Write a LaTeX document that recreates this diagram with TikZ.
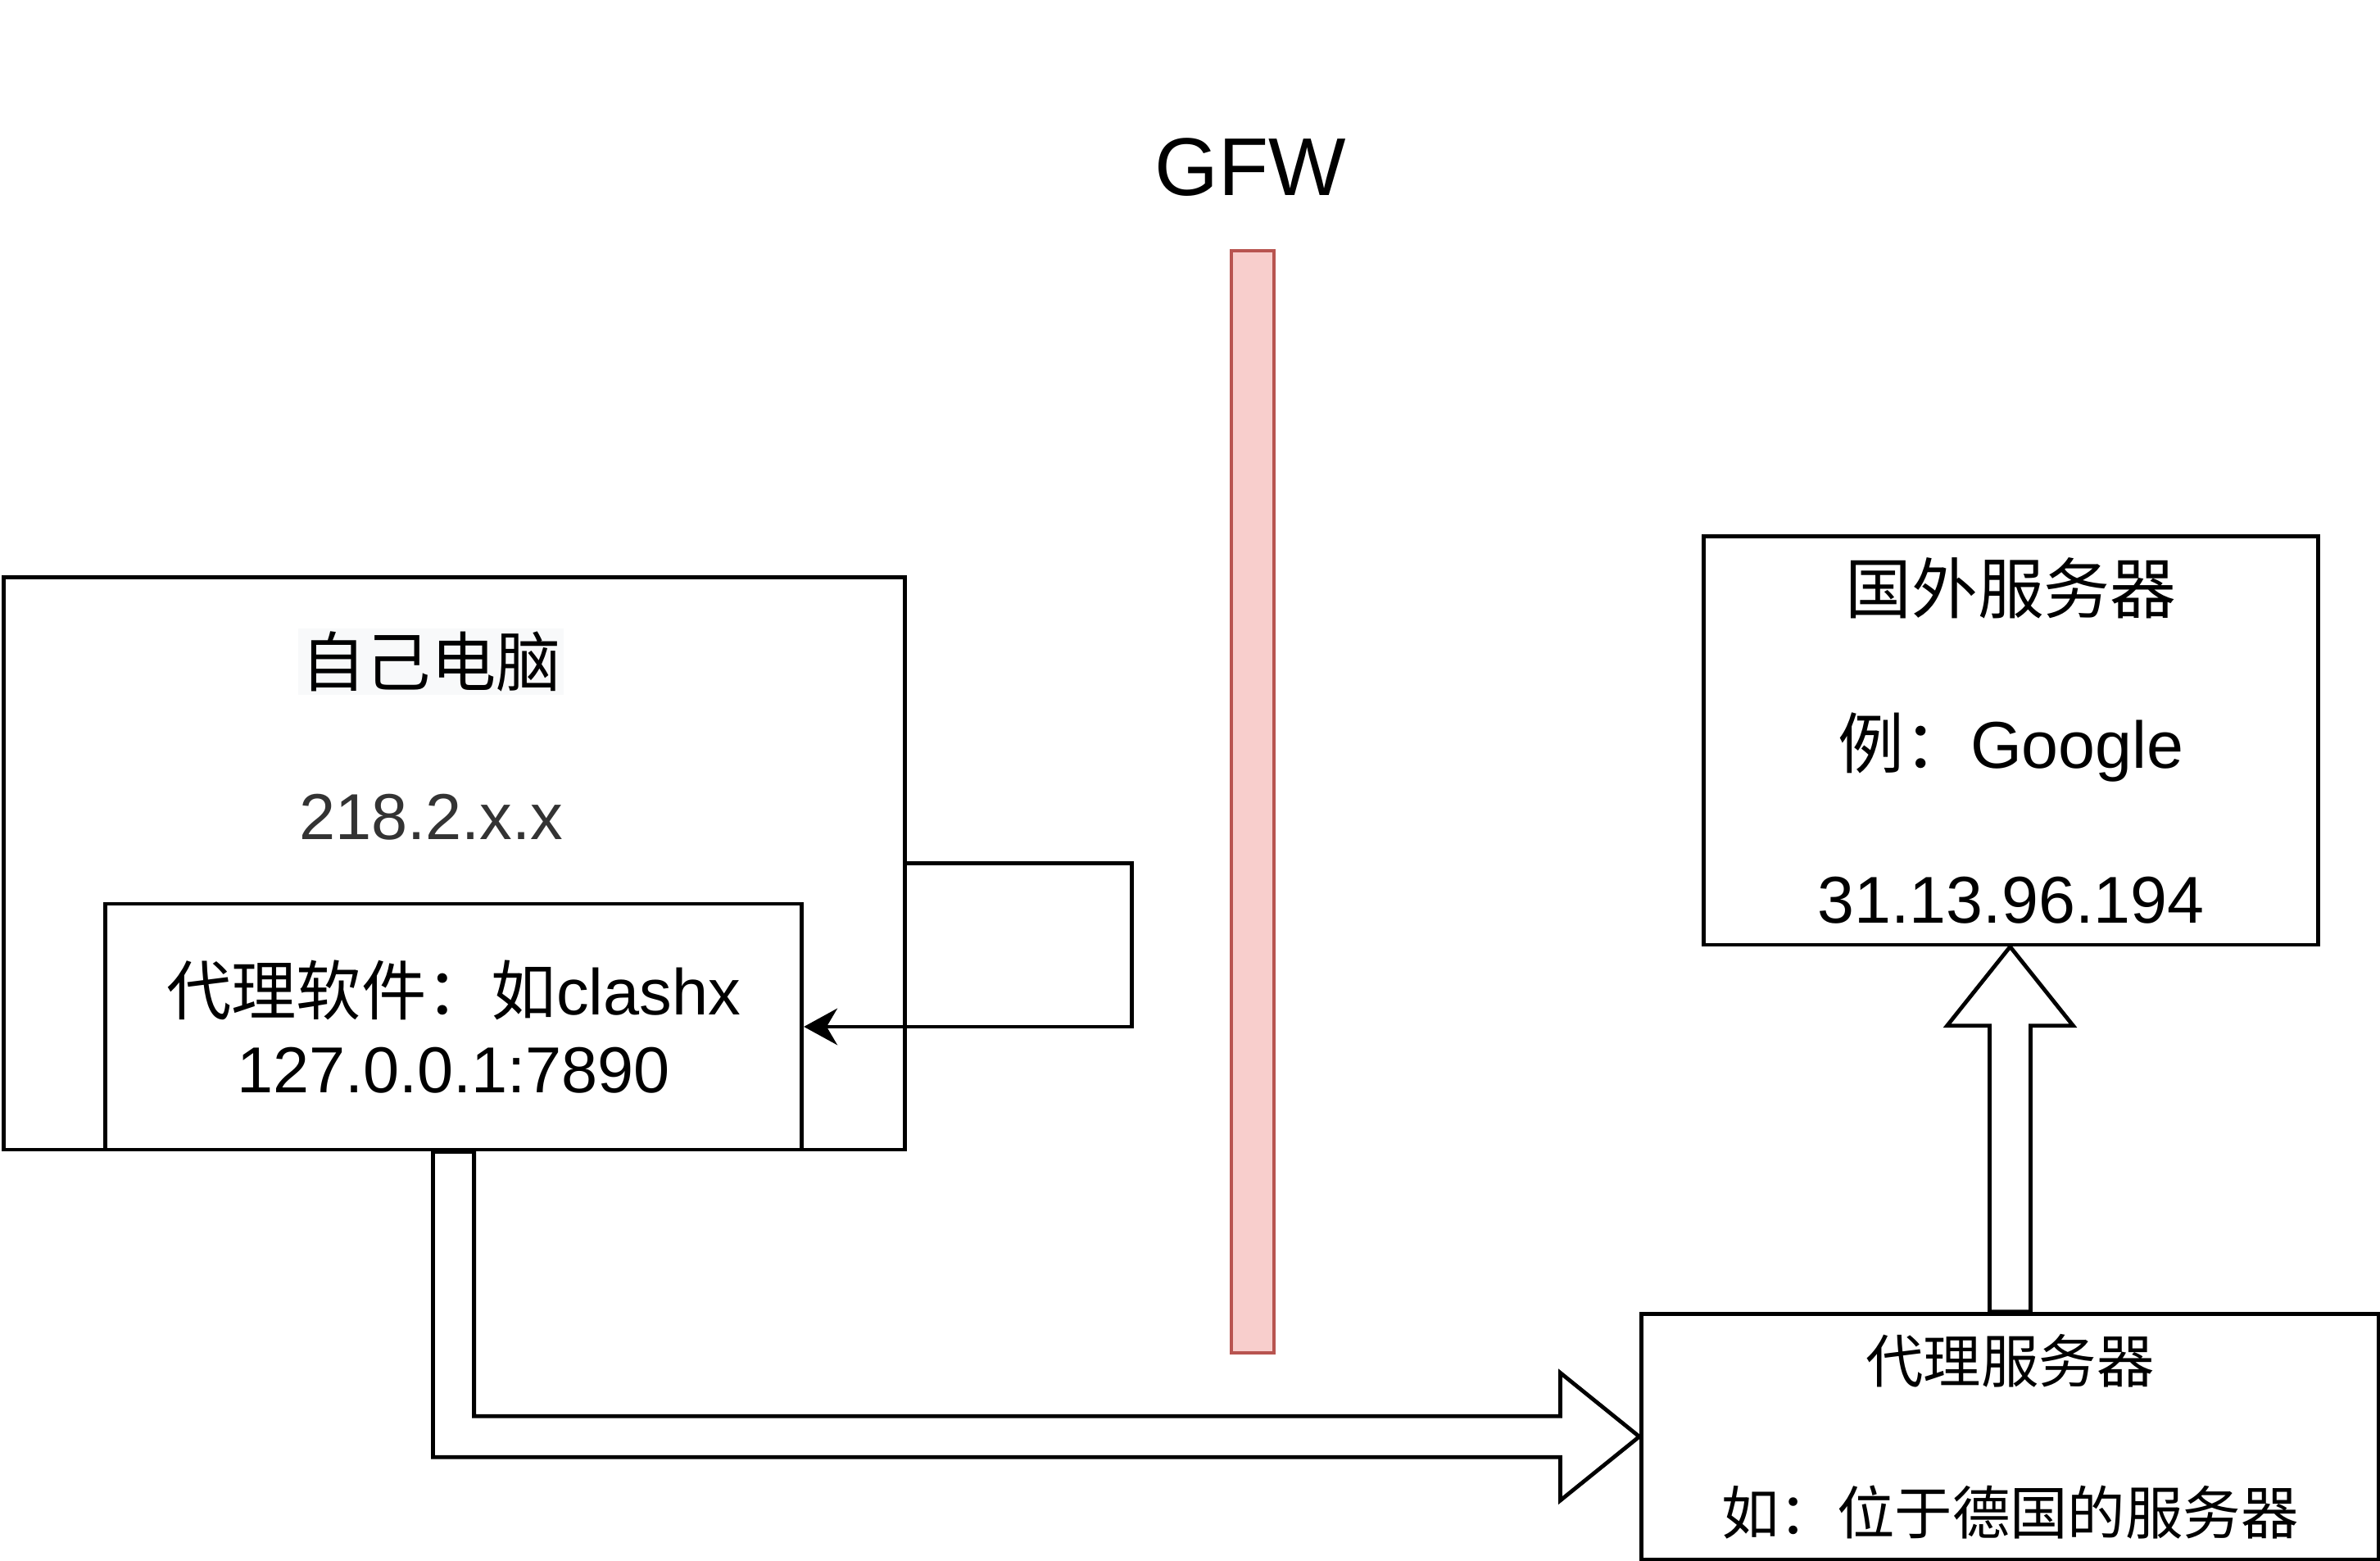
\documentclass[tikz,border=0pt]{standalone}
\usepackage{fontspec}
\setmainfont{Liberation Sans}
\newfontfamily\cjk{Noto Sans CJK SC}
\usetikzlibrary{arrows.meta,calc}
\definecolor{barfill}{HTML}{F8CECC}
\definecolor{barline}{HTML}{B85450}
\definecolor{hlbg}{HTML}{F8F9FA}
\definecolor{txtgray}{HTML}{333333}
\begin{document}
\begin{tikzpicture}[x=0.5pt,y=-0.5pt,
  box/.style={draw=black,line width=1.3pt,fill=white,rectangle,inner sep=0pt,anchor=north west,align=center},
  lbl/.style={inner sep=0pt,font=\fontsize{21.4}{25}\selectfont},
  bigarrow/.style={draw=black,line width=1.3pt,fill=white,line join=miter},
  conn/.style={draw=black,line width=1.3pt,-{Stealth[length=11pt,width=12pt,inset=3.5pt]}}]
\useasboundingbox (0,0) rectangle (1568,1028);

% GFW wall
\node[font=\fontsize{27}{30}\selectfont] (gfwlbl) at (824,110) {GFW};
\node[draw=barline,fill=barfill,line width=1.1pt,rectangle,inner sep=0pt,anchor=north west,
      minimum width=14pt,minimum height=363pt] (gfw) at (810,164) {};

% own computer
\node[box,minimum width=297pt,minimum height=188.5pt] (pc) at (1,379) {};
\node[lbl,fill=hlbg,inner sep=1pt] (pcname) at (284,436) {\cjk 自己电脑};
\node[lbl,text=txtgray] (pcip) at (284,538) {218.2.x.x};
\node[box,minimum width=229.5pt,minimum height=81pt,font=\fontsize{21.4}{25.5}\selectfont] (soft) at (68,594)
  {{\cjk 代理软件：如}clashx\\127.0.0.1:7890};

% foreign server
\node[box,minimum width=202.5pt,minimum height=134.5pt,font=\fontsize{21.8}{51}\selectfont] (google) at (1121,352)
  {{\cjk 国外服务器}\\{\cjk 例：}Google\\31.13.96.194};

% proxy server
\node[box,minimum width=243pt,minimum height=81pt,font=\fontsize{19}{50}\selectfont] (proxy) at (1080,864)
  {{\cjk 代理服务器}\\{\cjk 如：位于德国的服务器}};

% loop connector
\draw[conn] (pc.east) -- ++(148,0) |- (soft.east);

% big arrow: software -> proxy
\path (soft.south) coordinate (s) (proxy.west) coordinate (t);
\draw[bigarrow] ($(s)+(-13.5,0)$) -- ($(s)+(13.5,0)$) -- ($(s|-t)+(13.5,-13.5)$)
  -- ($(t)+(-52,-13.5)$) -- ($(t)+(-52,-42)$) -- (t) -- ($(t)+(-52,42)$)
  -- ($(t)+(-52,13.5)$) -- ($(s|-t)+(-13.5,13.5)$) -- cycle;

% big arrow: proxy -> google
\path (proxy.north) coordinate (u) (google.south) coordinate (g);
\draw[bigarrow] ($(u)+(-13.5,0)$) -- ($(u|-g)+(-13.5,52)$) -- ($(u|-g)+(-41.5,52)$)
  -- (u|-g) -- ($(u|-g)+(41.5,52)$) -- ($(u|-g)+(13.5,52)$) -- ($(u)+(13.5,0)$) -- cycle;
\end{tikzpicture}
\end{document}
